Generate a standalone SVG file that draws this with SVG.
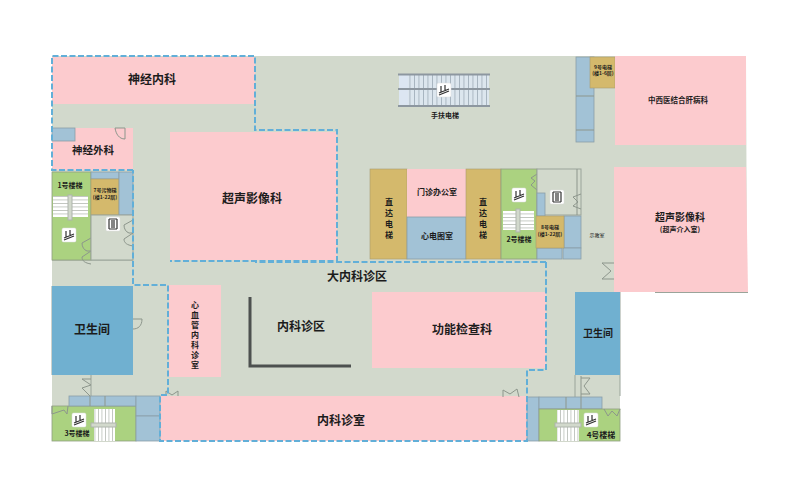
<svg xmlns="http://www.w3.org/2000/svg" xmlns:xlink="http://www.w3.org/1999/xlink" width="800" height="477" viewBox="0 0 800 477">
<style>
text{font-family:"Noto Sans CJK SC","Liberation Sans",sans-serif;font-weight:700;fill:#1c1c1c;text-anchor:middle}
.pink{fill:#fccbce}.blue{fill:#a2c2d6;stroke:#8a9ea8;stroke-width:.8}.wc{fill:#70b0d0}.tan{fill:#d4b96c;stroke:#a89c70;stroke-width:.6}.green{fill:#abd280;stroke:#8f9f80;stroke-width:.8}
.room{fill:#d2d9cc;stroke:#9aa49a;stroke-width:1}
.door{fill:none;stroke:#8d968c;stroke-width:1}
.dash{fill:none;stroke:#62afd8;stroke-width:2;stroke-dasharray:6 2.5}
.icon{fill:#fff;stroke:#ddd;stroke-width:.5}
.glyph{fill:none;stroke:#333;stroke-width:1.2}
</style>
<defs>
<g id="lift"><rect class="icon" x="-7" y="-7" width="14" height="14" rx="1.5"/><path class="glyph" d="M-5 5L5 1M-5 3L5-1M-3 2V-4M1 0V-5"/></g>
<g id="box"><rect class="icon" x="-7" y="-7" width="14" height="14" rx="1.5"/><path class="glyph" d="M-4-5V5M4-5V5M-1-4V4M1-4V4M-4-5H4M-4 5H4"/></g>
<g id="dbl"><path class="door" d="M0 0L-9 5C-9 9-7 12-4 13L0 13L-9 19C-9 23-6 25 0 26"/></g>
<pattern id="st" width="3.500" height="3.500" patternUnits="userSpaceOnUse"><rect width="3.500" height="3.500" fill="#fff"/><path d="M0 0H3.500" stroke="#aeb4ac" stroke-width="1.400"/></pattern>
<pattern id="sv" width="3.500" height="3.500" patternUnits="userSpaceOnUse"><rect width="3.500" height="3.500" fill="#fff"/><path d="M0 0V3.500" stroke="#aeb4ac" stroke-width="1.400"/></pattern>
<pattern id="esc" width="4.500" height="4.500" patternUnits="userSpaceOnUse"><rect width="4.500" height="4.500" fill="#dce6ee"/><path d="M0 0V4.500" stroke="#8f9eaa" stroke-width="1.300"/></pattern>
</defs>
<path id="floor" fill="#d2d9cc" d="M52 56H746L747 290L620 292V441H52Z"/>
<g id="corridor-lines" fill="none" stroke="#9aa49a" stroke-width="1">
<path d="M52 260H133M52 286V375M620 292V396M91 375V396M575 375V397M655 292.500H748"/>
</g>
<g id="neuro-medicine"><rect class="pink" x="52" y="57" width="203" height="47"/><text x="152" y="84" font-size="12">神经内科</text></g>
<g id="neuro-surgery"><rect class="pink" x="52" y="128" width="81" height="42"/><rect class="blue" x="52" y="128" width="23" height="13" stroke="none"/><path class="door" d="M115 128H125V139C119 139 116 134 115 128Z"/><text x="93" y="154" font-size="10.500">神经外科</text></g>
<g id="ultrasound"><rect class="pink" x="170" y="132" width="167" height="128"/><text x="252" y="203" font-size="12">超声影像科</text></g>
<g id="stair1"><rect class="green" x="52" y="172" width="39" height="88"/><rect x="53" y="196" width="35" height="21" fill="url(#st)"/><rect x="68" y="195" width="4" height="25" fill="#d2d9cc" stroke="#aeb4ac"/><use xlink:href="#lift" x="69" y="235"/><use xlink:href="#dbl" x="91" y="238"/><text x="70" y="188" font-size="7">1号楼梯</text></g>
<g id="lift7"><rect class="blue" x="91" y="172" width="28" height="7"/><rect class="tan" x="91" y="179" width="28" height="36"/><rect class="blue" x="119" y="172" width="14" height="43"/><rect class="room" x="91" y="215" width="42" height="45"/><use xlink:href="#box" x="113" y="224"/><use xlink:href="#dbl" x="133" y="220"/><text x="105" y="192" font-size="5">7号污物梯</text><text x="105" y="199" font-size="5">(楼1-22层)</text></g>
<g id="wc-left"><rect class="wc" x="52" y="286" width="81" height="89"/><text x="92" y="334" font-size="12">卫生间</text></g>
<g id="cardio"><rect class="pink" x="169" y="285" width="52" height="92"/><text x="195" y="308" font-size="8">心</text><text x="195" y="318" font-size="8">血</text><text x="195" y="328" font-size="8">管</text><text x="195" y="338" font-size="8">内</text><text x="195" y="348" font-size="8">科</text><text x="195" y="358" font-size="8">诊</text><text x="195" y="368" font-size="8">室</text><path class="door" d="M133 319H142C142 326 138 329 133 329"/></g>
<g id="internal-area"><path d="M250 297V366H351" fill="none" stroke="#4d514f" stroke-width="3"/><text x="301" y="331" font-size="12">内科诊区</text></g>
<g id="big-area"><text x="357" y="281" font-size="12">大内科诊区</text></g>
<g id="function"><rect class="pink" x="372" y="292" width="174" height="76"/><text x="462" y="334" font-size="12">功能检查科</text></g>
<g id="consult"><rect class="pink" x="160" y="396" width="367" height="45"/><text x="341" y="425" font-size="12">内科诊室</text></g>
<g id="stair3"><rect class="green" x="52" y="406" width="84" height="35"/><rect class="blue" x="69" y="396" width="67" height="10"/><path class="door" d="M90 396L82 388L91 385L82 379L91 379"/><path class="door" d="M90 396V406M105 396V406"/><rect class="blue" x="136" y="396" width="24" height="20"/><rect class="blue" x="136" y="416" width="24" height="25"/><path class="door" d="M52 406V414L64 410L67 414L68 406"/><rect x="94" y="409" width="21" height="32" fill="url(#sv)"/><rect x="91" y="423" width="25" height="4" fill="#d2d9cc" stroke="#aeb4ac"/><use xlink:href="#lift" x="79" y="420"/><text x="77" y="436" font-size="7">3号楼梯</text><path class="door" d="M166 396V391L172 395L178 391V396"/></g>
<g id="stair4"><rect class="blue" x="527" y="397" width="12" height="44" stroke="none"/><rect class="blue" x="539" y="397" width="63" height="12"/><path class="door" d="M566 397V409M581 397V409"/><rect class="green" x="539" y="409" width="81" height="32"/><rect x="557" y="410" width="22" height="31" fill="url(#sv)"/><rect x="555" y="423" width="26" height="4" fill="#d2d9cc" stroke="#aeb4ac"/><use xlink:href="#lift" x="591" y="420"/><text x="601" y="438" font-size="8">4号楼梯</text><path class="door" d="M604 409L608 416L612 411L617 416L620 409M581 378L590 378L584 386L590 394H581M581 376V397M503 397V390L510 394L517 389L519 397"/></g>
<g id="wc-right"><rect class="wc" x="575" y="292" width="45" height="83"/><text x="598" y="337" font-size="10">卫生间</text></g>
<g id="lift-a"><rect class="tan" x="370" y="169" width="37" height="90"/><text x="389" y="205" font-size="8">直</text><text x="389" y="216" font-size="8">达</text><text x="389" y="227" font-size="8">电</text><text x="389" y="238" font-size="8">梯</text></g>
<g id="office"><rect class="pink" x="407" y="169" width="59" height="48"/><text x="437" y="195" font-size="8">门诊办公室</text></g>
<g id="ecg"><rect class="blue" x="407" y="217" width="59" height="42" stroke="none"/><text x="437" y="239" font-size="8">心电图室</text></g>
<g id="lift-b"><rect class="tan" x="466" y="169" width="35" height="90"/><text x="483" y="205" font-size="8">直</text><text x="483" y="216" font-size="8">达</text><text x="483" y="227" font-size="8">电</text><text x="483" y="238" font-size="8">梯</text></g>
<g id="stair2"><rect class="green" x="501" y="169" width="36" height="90"/><rect x="503" y="211" width="31" height="19" fill="url(#st)"/><rect x="516" y="209" width="4" height="23" fill="#d2d9cc" stroke="#aeb4ac"/><use xlink:href="#lift" x="519" y="195"/><path class="door" d="M537 174L531 178L535 181L531 185L537 190"/><text x="519" y="242" font-size="7">2号楼梯</text></g>
<g id="lift8"><rect class="room" x="537" y="169" width="44" height="46"/><path class="door" d="M577 169V215"/><rect class="blue" x="537" y="193" width="8" height="23" stroke="none"/><use xlink:href="#box" x="557" y="197"/><path class="door" d="M581 194L573 197L578 202L573 206L581 209"/><rect class="blue" x="564" y="216" width="17" height="32" stroke="none"/><rect class="blue" x="537" y="248" width="25" height="11"/><rect class="blue" x="563" y="248" width="18" height="11"/><rect class="tan" x="536" y="216" width="28" height="32"/><text x="550" y="229" font-size="5">8号电梯</text><text x="550" y="236" font-size="5">(楼1-22层)</text></g>
<g id="escalator"><rect x="399" y="74" width="90" height="32" fill="url(#esc)"/><rect x="399" y="74" width="9" height="32" fill="#dce6f2"/><path d="M398 74.500H490M398 89H490M398 106H490" stroke="#8d97a0" stroke-width="2"/><use xlink:href="#lift" x="444" y="90"/><text x="445" y="118" font-size="7">手扶电梯</text></g>
<g id="lift9"><rect class="blue" x="576" y="57" width="18" height="85"/><path class="door" d="M576 96H594M576 130H594"/><rect class="tan" x="590" y="57" width="25" height="31"/><text x="603" y="69" font-size="5">9号电梯</text><text x="603" y="75" font-size="5">(楼1-6层)</text></g>
<g id="tcm"><rect class="pink" x="615" y="56" width="131" height="89"/><text x="678" y="103" font-size="7.500">中西医结合肝病科</text></g>
<g id="ultra2"><path class="door" d="M602 263H614M602 263L611 271L602 279H614"/><path class="pink" d="M614 167H746L748 292H614Z"/><text x="680" y="221" font-size="10">超声影像科</text><text x="680" y="232" font-size="7">(超声介入室)</text><text x="597" y="237" font-size="5" fill="#666" style="font-weight:400">示教室</text></g>
<g id="connectors"><path class="dash" d="M133 170H52V56H255V130H337V261H170M546 262H255M546 262V370H527V441H160V395H168V285H133V170"/></g>
</svg>
